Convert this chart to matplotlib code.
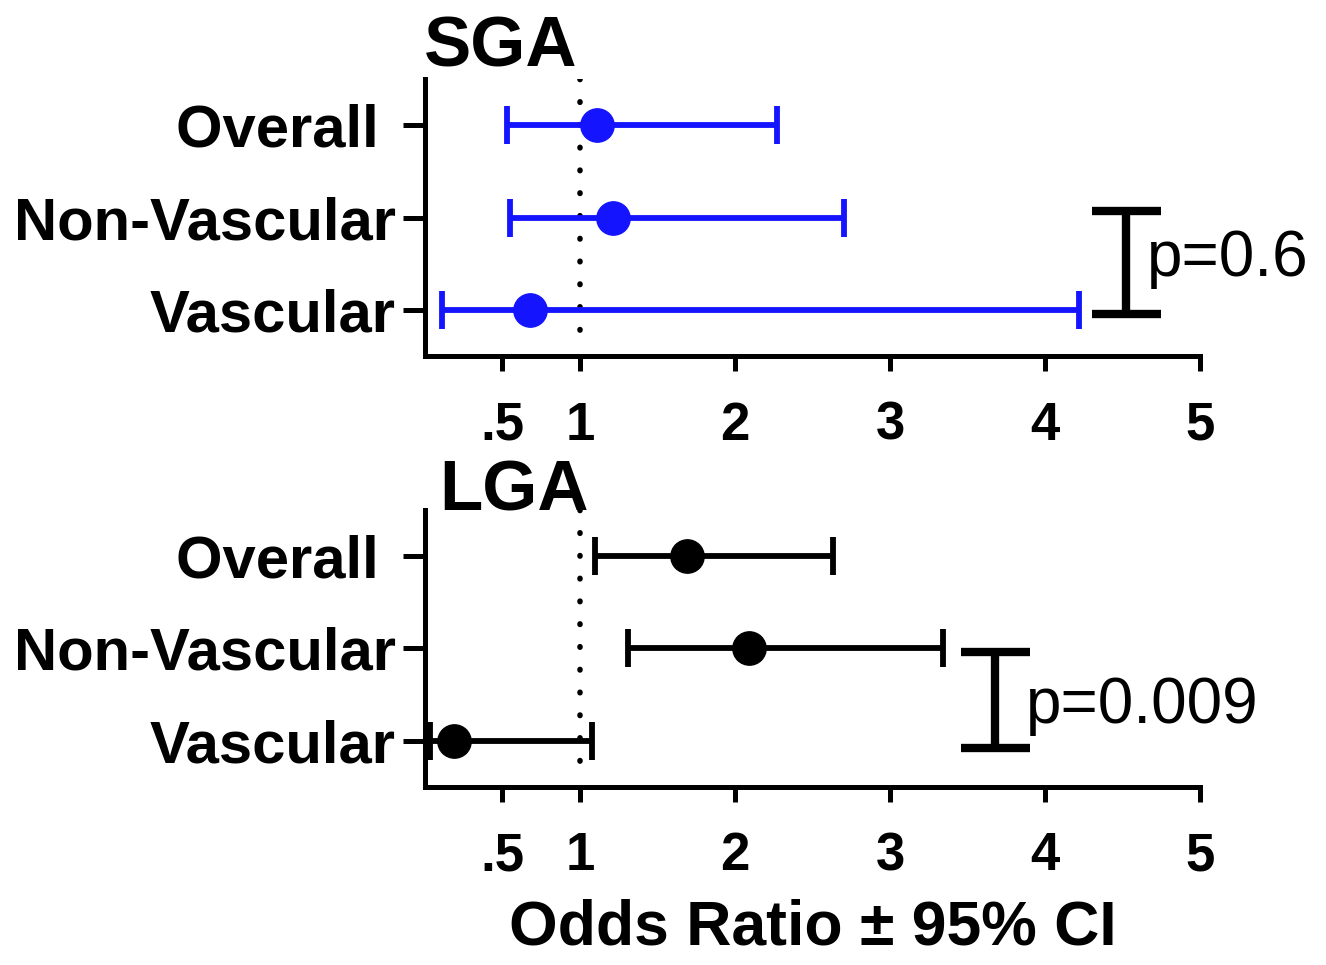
import matplotlib
matplotlib.use('Agg')
import matplotlib.pyplot as plt

plt.rcParams['font.family'] = ['Liberation Sans', 'DejaVu Sans']

# Data
groups = ['Overall ', 'Non-Vascular', 'Vascular']
sga_or = [1.11, 1.21, 0.68]
sga_lo = [0.53, 0.55, 0.11]
sga_hi = [2.27, 2.70, 4.22]
lga_or = [1.69, 2.09, 0.19]
lga_lo = [1.10, 1.31, 0.03]
lga_hi = [2.63, 3.34, 1.08]
xticks = [0.5, 1, 2, 3, 4, 5]
xticklabels = ['.5', '1', '2', '3', '4', '5']
p_sga = 'p=0.6'
p_lga = 'p=0.009'

fig = plt.figure(figsize=(13.26, 9.65), dpi=100)
ax1 = fig.add_axes([0.3205, 0.631, 0.5845, 0.287])
ax2 = fig.add_axes([0.3205, 0.1845, 0.5845, 0.287])


def forest(ax, est, lo, hi, color, title, ptext, bx, by, pxy):
    ypos = [1, 2, 3]
    xerr = [[e - l for e, l in zip(est, lo)], [h - e for e, h in zip(est, hi)]]
    ax.errorbar(est, ypos, xerr=xerr, fmt='o', color=color, ms=24, elinewidth=4.2,
                capsize=14, capthick=4.2, clip_on=False, zorder=3)
    ax.vlines(1, 0.5, 3.32, colors='black', linestyles=(0, (0.1, 4.0)), linewidth=4,
              capstyle='round', zorder=2)
    ax.set_xlim(0, 5)
    ax.set_ylim(3.5, 0.5)
    ax.set_xticks(xticks)
    ax.set_xticklabels(xticklabels)
    ax.set_yticks(ypos)
    ax.set_yticklabels(groups)
    for side in ['top', 'right']:
        ax.spines[side].set_visible(False)
    for side in ['left', 'bottom']:
        ax.spines[side].set_linewidth(3.6)
    ax.tick_params(axis='x', length=11, width=3.6, pad=21, labelsize=38)
    ax.tick_params(axis='y', length=16, width=3.6, pad=5, labelsize=43)
    for lab in ax.get_xticklabels() + ax.get_yticklabels():
        lab.set_fontweight('bold')
    ax.text(title[1], title[2], title[0], transform=ax.transAxes, fontsize=51,
            fontweight='bold', va='baseline', ha='left')
    # significance bracket between Non-Vascular and Vascular
    x0, x1 = bx
    xm = (x0 + x1) / 2
    kw = dict(color='black', lw=6, clip_on=False, solid_capstyle='butt')
    ax.plot([x0, x1], [by[0], by[0]], **kw)
    ax.plot([x0, x1], [by[1], by[1]], **kw)
    ax.plot([xm, xm], by, **kw)
    ax.text(pxy[0], pxy[1], ptext, fontsize=46, va='center', ha='left', clip_on=False)


forest(ax1, sga_or, sga_lo, sga_hi, '#1414ff', ('SGA', -0.002, 1.047), p_sga,
       (4.30, 4.75), (1.93, 3.04), (4.66, 2.45))
forest(ax2, lga_or, lga_lo, lga_hi, 'black', ('LGA', 0.018, 1.0), p_lga,
       (3.46, 3.90), (2.04, 3.08), (3.88, 2.62))

ax2.set_xlabel('Odds Ratio \u00b1 95% CI', fontsize=45, fontweight='bold', labelpad=12)

plt.savefig('out.png', dpi=100)
